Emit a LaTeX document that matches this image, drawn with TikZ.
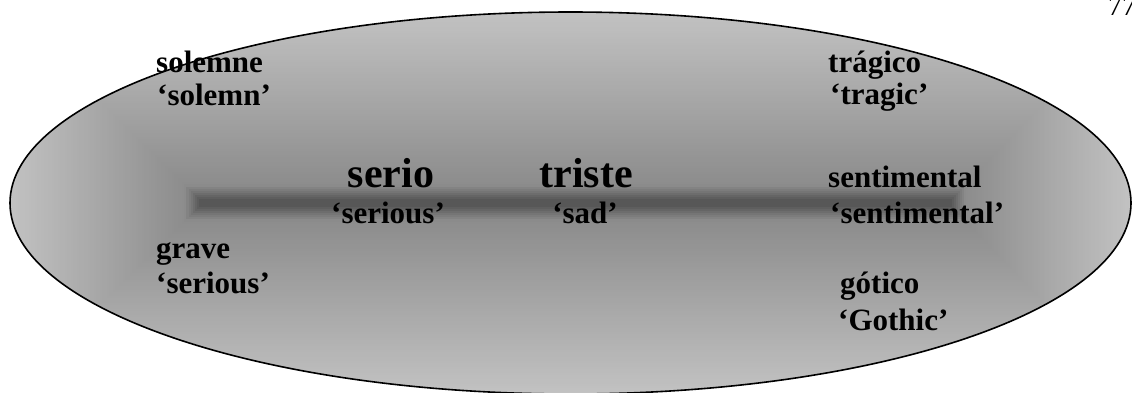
\documentclass[tikz,border=0pt]{standalone}
\usepackage{fontspec}
\setmainfont{Liberation Serif}
\begin{document}
\begin{tikzpicture}[x=1pt,y=-1pt,
  lbl/.style={inner sep=0pt, font=\fontsize{31}{31}\selectfont\bfseries, anchor=base west},
  big/.style={inner sep=0pt, font=\fontsize{42}{42}\selectfont\bfseries, anchor=base},
  mid/.style={inner sep=0pt, font=\fontsize{31}{31}\selectfont\bfseries, anchor=base}]
\useasboundingbox (0,0) rectangle (1132,392);
\begin{scope}
  \clip (570.5,203) ellipse [x radius=560.5, y radius=191];
  \foreach \i in {0,...,90} {
    \pgfmathsetmacro\t{\i/90}
    \pgfmathsetmacro\g{\t<0.92 ? 0.76-0.21*\t/0.92 : 0.55-0.21*(\t-0.92)/0.08}
    \pgfmathsetmacro\xa{10+189*\t}
    \pgfmathsetmacro\ya{12+187*\t}
    \pgfmathsetmacro\xb{1131-179*\t}
    \pgfmathsetmacro\yb{394-187*\t}
    \definecolor{bandc}{gray}{\g}
    \fill[bandc] (\xa,\ya) rectangle (\xb,\yb);
  }
\end{scope}
\draw[line width=1.6pt] (570.5,203) ellipse [x radius=560.5, y radius=191];
\node[inner sep=0pt, anchor=base west, font=\fontsize{28}{28}\selectfont] (pg) at (1108,15) {77};
\node[lbl] (solemne) at (156,72) {solemne};
\node[lbl] (solemnE) at (157,105) {‘solemn’};
\node[lbl] (tragico) at (828,72) {trágico};
\node[lbl] (tragicE) at (830,104) {‘tragic’};
\node[big] (serio) at (391,187) {serio};
\node[mid] (serioE) at (388,223) {‘serious’};
\node[big] (triste) at (586,187) {triste};
\node[mid] (tristeE) at (585,223) {‘sad’};
\node[lbl] (sentim) at (828,187) {sentimental};
\node[lbl] (sentimE) at (830,223) {‘sentimental’};
\node[lbl] (grave) at (156,258) {grave};
\node[lbl] (graveE) at (156,293) {‘serious’};
\node[lbl] (gotico) at (840,293) {gótico};
\node[lbl] (goticoE) at (838,330) {‘Gothic’};
\end{tikzpicture}
\end{document}
